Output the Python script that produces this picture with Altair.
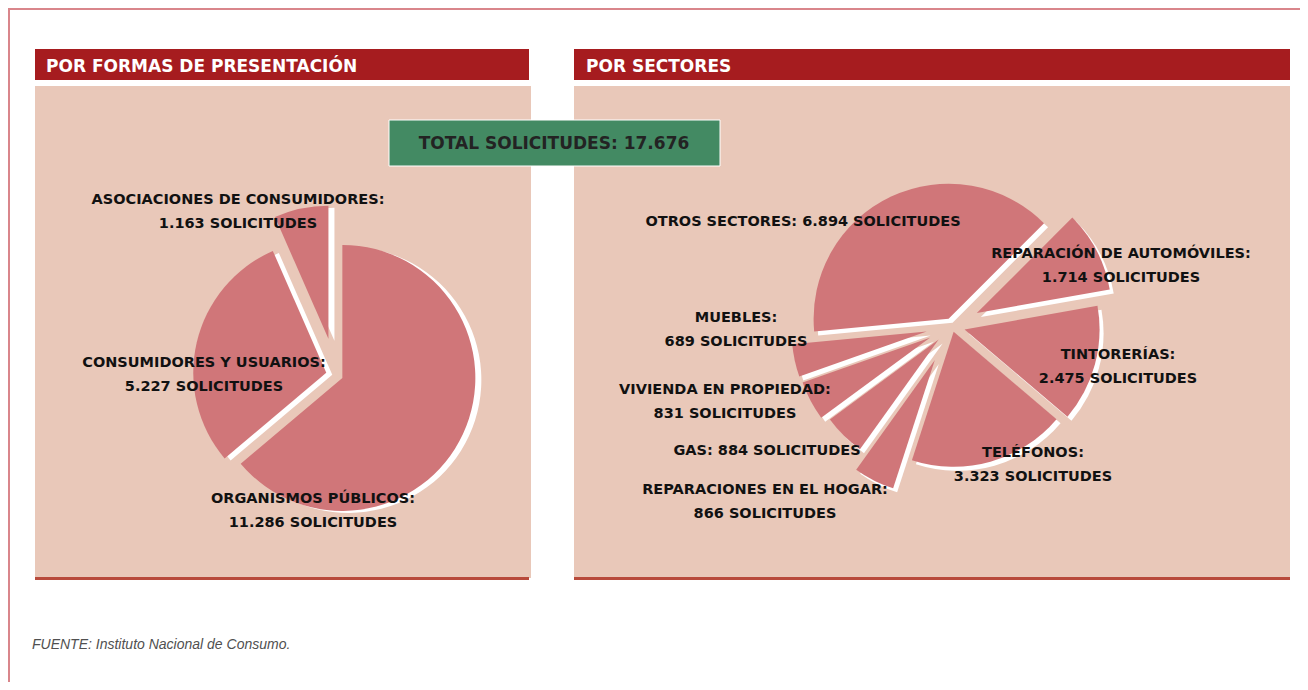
import altair as alt
import pandas as pd

# ---------------- data ----------------
LEFT_TITLE = "POR FORMAS DE PRESENTACIÓN"
RIGHT_TITLE = "POR SECTORES"
LEFT_LABELS = ["ORGANISMOS PÚBLICOS", "CONSUMIDORES Y USUARIOS", "ASOCIACIONES DE CONSUMIDORES"]
LEFT_VALUES = [11286, 5227, 1163]
RIGHT_LABELS = ["OTROS SECTORES", "REPARACIÓN DE AUTOMÓVILES", "TINTORERÍAS", "TELÉFONOS",
                "REPARACIONES EN EL HOGAR", "GAS", "VIVIENDA EN PROPIEDAD", "MUEBLES"]
RIGHT_VALUES = [6894, 1714, 2475, 3323, 866, 884, 831, 689]
TOTAL = 17676
TOTAL_TEXT = "TOTAL SOLICITUDES: "
UNIT = "SOLICITUDES"
SOURCE = "FUENTE: Instituto Nacional de Consumo."

# ---------------- layout / style ----------------
LEFT_EXPLODE = [7, 10, 37]
RIGHT_EXPLODE = [8, 28, 13, 6, 38, 19, 25, 26]
LEFT_ONE_LINE = [False, False, False]
RIGHT_ONE_LINE = [True, False, False, False, False, True, False, False]
LEFT_LABEL_X = [305, 196, 230]
LEFT_LABEL_Y = [491, 355, 192]
RIGHT_LABEL_X = [795, 1113, 1110, 1025, 757, 759, 717, 728]
RIGHT_LABEL_Y = [214, 246, 347, 445, 482, 443, 382, 310]

W, H = 1292, 674
SLICE = "#d07679"
BODY = "#e9c8b9"
HEADER = "#a61c1f"
BASELINE = "#b84a3b"
GREEN = "#438a63"
BORDER = "#d9868b"
LABEL_FONT = "DejaVu Sans"


def es_num(v):
    return f"{v:,}".replace(",", ".")


def make_df(labels, values, explode, one_line, lx, ly):
    texts = []
    for lab, v, one in zip(labels, values, one_line):
        sep = " " if one else "\n"
        texts.append(f"{lab}:{sep}{es_num(v)} {UNIT}")
    return pd.DataFrame({
        "order": list(range(len(labels))),
        "label": labels,
        "value": values,
        "explode": explode,
        "text": texts,
        "lx": lx,
        "ly": ly,
    })


left_df = make_df(LEFT_LABELS, LEFT_VALUES, LEFT_EXPLODE, LEFT_ONE_LINE, LEFT_LABEL_X, LEFT_LABEL_Y)
right_df = make_df(RIGHT_LABELS, RIGHT_VALUES, RIGHT_EXPLODE, RIGHT_ONE_LINE, RIGHT_LABEL_X, RIGHT_LABEL_Y)

dummy = pd.DataFrame({"a": [0]})


def box(x, x2, y, y2, color, **kw):
    return alt.Chart(dummy).mark_rect(color=color, **kw).encode(
        x=alt.value(x), x2=alt.value(x2), y=alt.value(y), y2=alt.value(y2)
    )


def label(x, y, txt, **kw):
    return alt.Chart(dummy).mark_text(text=txt, **kw).encode(x=alt.value(x), y=alt.value(y))


def pie(df, cx, cy, r, start, sdx, sdy):
    base = (
        alt.Chart(df)
        .transform_joinaggregate(total="sum(value)")
        .transform_window(cum="sum(value)", sort=[alt.SortField("order")], frame=[None, 0])
        .transform_calculate(a0=f"{start} + (datum.cum - datum.value) / datum.total * 360")
        .transform_calculate(a1=f"{start} + datum.cum / datum.total * 360")
        .transform_calculate(mid="(datum.a0 + datum.a1) / 2")
        .transform_calculate(t0="datum.a0 * PI / 180")
        .transform_calculate(t1="datum.a1 * PI / 180")
        .transform_calculate(px=f"{cx} + datum.explode * sin(datum.mid * PI / 180)")
        .transform_calculate(py=f"{cy} - datum.explode * cos(datum.mid * PI / 180)")
    )
    enc = dict(
        x=alt.X("px:Q", scale=None, axis=None),
        y=alt.Y("py:Q", scale=None, axis=None),
        theta=alt.Theta("t0:Q", scale=None, stack=False),
        theta2=alt.Theta2("t1:Q"),
    )
    shadow = base.mark_arc(radius=r, color="white", xOffset=sdx, yOffset=sdy).encode(**enc)
    slices = base.mark_arc(radius=r, color=SLICE).encode(
        **enc, tooltip=[alt.Tooltip("label:N"), alt.Tooltip("value:Q")]
    )
    texts = alt.Chart(df).mark_text(
        font=LABEL_FONT, fontWeight="bold", fontSize=14.5, color="#111111",
        lineBreak="\n", lineHeight=24, align="center", baseline="middle"
    ).encode(
        x=alt.X("lx:Q", scale=None, axis=None),
        y=alt.Y("ly:Q", scale=None, axis=None),
        text="text:N",
    )
    return [shadow, slices, texts]


layers = [
    # outer frame
    alt.Chart(dummy).mark_rect(filled=False, stroke=BORDER, strokeWidth=2).encode(
        x=alt.value(1), x2=alt.value(1500), y=alt.value(1), y2=alt.value(1000)
    ),
    # panels
    box(27, 521, 41, 72, HEADER),
    box(566, 1282, 41, 72, HEADER),
    box(27, 523, 78, 570, BODY),
    box(566, 1282, 78, 570, BODY),
    box(27, 521, 569, 572, BASELINE),
    box(566, 1282, 569, 572, BASELINE),
    label(38, 59, LEFT_TITLE, font=LABEL_FONT, fontWeight="bold", fontSize=17, color="white",
          align="left", baseline="middle"),
    label(578, 59, RIGHT_TITLE, font=LABEL_FONT, fontWeight="bold", fontSize=17, color="white",
          align="left", baseline="middle"),
]

layers += pie(left_df, 328, 367, 133, 0, 6, 2)
layers += pie(right_df, 944, 318, 135, -95.4, 4, 4)

layers += [
    box(381, 712, 112, 158, GREEN, stroke="white", strokeWidth=1),
    label(546, 136, TOTAL_TEXT + es_num(TOTAL), font=LABEL_FONT, fontWeight="bold", fontSize=17,
          color="#232323", align="center", baseline="middle"),
    label(24, 637, SOURCE, font="Liberation Sans", fontStyle="italic", fontSize=14,
          color="#505050", align="left", baseline="middle"),
]

chart = (
    alt.layer(*layers)
    .properties(width=W, height=H, autosize=alt.AutoSizeParams(type="none"), padding=0,
                background="white")
    .configure_view(strokeWidth=0)
)

chart.save("out.html", embed_options={"renderer": "svg", "actions": False})
